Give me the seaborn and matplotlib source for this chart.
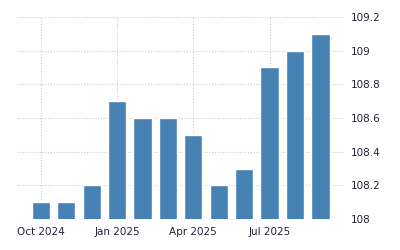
import matplotlib
matplotlib.use("Agg")
import matplotlib.pyplot as plt
import seaborn as sns
import pandas as pd

months = ["Oct 2024", "Nov 2024", "Dec 2024", "Jan 2025", "Feb 2025", "Mar 2025",
          "Apr 2025", "May 2025", "Jun 2025", "Jul 2025", "Aug 2025", "Sep 2025"]
values = [108.1, 108.1, 108.2, 108.7, 108.6, 108.6, 108.5, 108.2, 108.3, 108.9, 109.0, 109.1]
tick_labels = ["Oct 2024", "Jan 2025", "Apr 2025", "Jul 2025"]
y_ticks = [108, 108.2, 108.4, 108.6, 108.8, 109, 109.2]
y_labels = ["108", "108.2", "108.4", "108.6", "108.8", "109", "109.2"]

sns.set_style("white")
plt.rcParams['font.family'] = ['DejaVu Sans']

df = pd.DataFrame({"month": months, "value": values})
fig = plt.figure(figsize=(4, 2.5), dpi=100)
ax = fig.add_axes([0.0425, 0.124, 0.82, 0.808])
sns.barplot(data=df, x="month", y="value", color="#4682b4", saturation=1, width=0.72, ax=ax, zorder=3)
ax.set_ylim(108, 109.2)
ax.set_xlim(-0.94, 11.97)
ax.set_xticks([months.index(t) for t in tick_labels])
ax.set_xticklabels(tick_labels, fontsize=7.5, color="#222233")
ax.yaxis.tick_right()
ax.set_yticks(y_ticks)
ax.set_yticklabels(y_labels, fontsize=7.5, color="#222233")
ax.tick_params(axis="y", length=0, pad=4)
ax.tick_params(axis="x", length=3, color="#cccccc", pad=3)
ax.grid(True, linestyle=(0, (1, 1.5)), color="#cccccc", linewidth=0.8, zorder=0)
for s in ax.spines.values():
    s.set_visible(False)
ax.set_xlabel("")
ax.set_ylabel("")
fig.savefig("out.png", dpi=100)
